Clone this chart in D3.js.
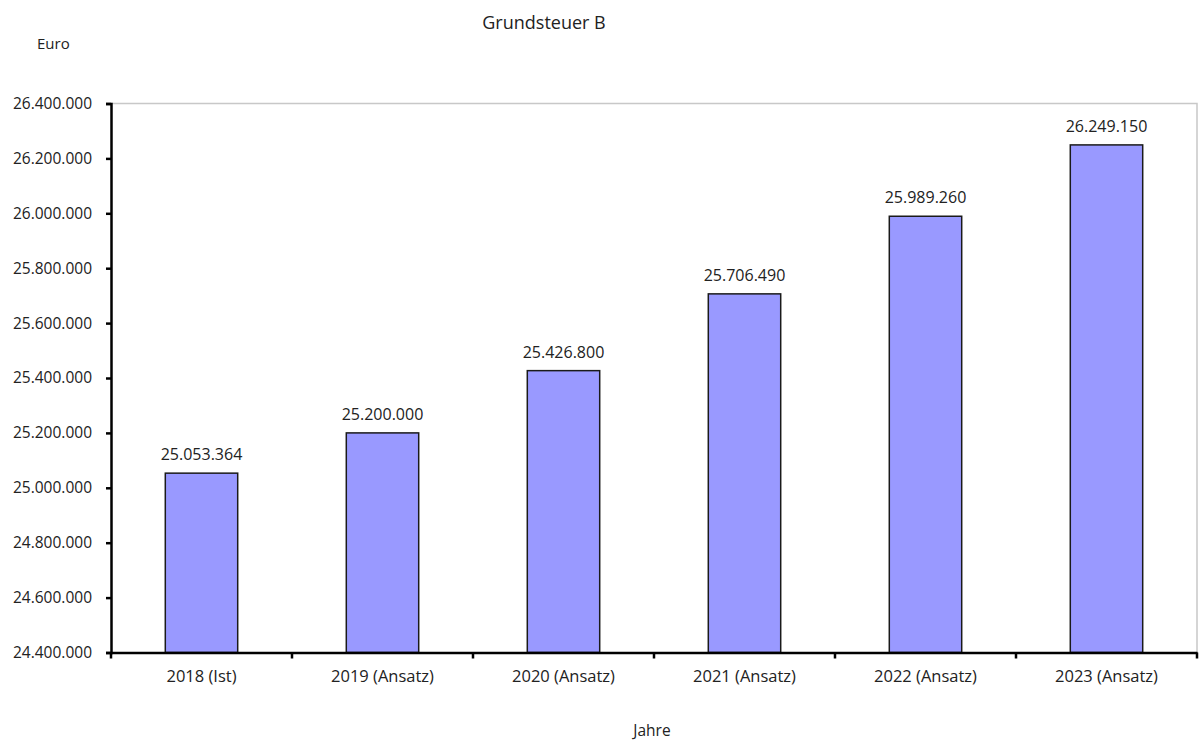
<!DOCTYPE html>
<html><head><meta charset="utf-8">
<script src="https://cdn.jsdelivr.net/npm/d3@7"></script>
<style>body{margin:0;background:#fff}svg{display:block}text{font-family:"Open Sans",sans-serif;fill:#222}</style>
</head><body>
<svg id="c" width="1199" height="740"></svg>
<script>
const categories = ["2018 (Ist)","2019 (Ansatz)","2020 (Ansatz)","2021 (Ansatz)","2022 (Ansatz)","2023 (Ansatz)"];
const values = [25053364, 25200000, 25426800, 25706490, 25989260, 26249150];
const yTicks = [24400000,24600000,24800000,25000000,25200000,25400000,25600000,25800000,26000000,26200000,26400000];
const title = "Grundsteuer B", yTitle = "Euro", xTitle = "Jahre";

const svg = d3.select("#c");
const L = 111, R = 1197, T = 103.5, B = 652.5;
const fmt = v => d3.format(",")(v).replace(/,/g, ".");
const x = d3.scaleBand().domain(categories).range([L, R]).paddingInner(0.6).paddingOuter(0.3);
const y = d3.scaleLinear().domain([24400000, 26400000]).range([B, T]);

svg.append("path").attr("d", `M${L},${T}H${R}V${B}`).attr("fill","none").attr("stroke","#c8c8c8").attr("stroke-width",1.5);

svg.selectAll("rect.bar").data(values).join("rect")
  .attr("x",(d,i)=>x(categories[i])).attr("width",x.bandwidth())
  .attr("y",d=>y(d)).attr("height",d=>B-y(d))
  .attr("fill","#9999ff").attr("stroke","#1a1a1a").attr("stroke-width",1.5);

svg.selectAll("text.val").data(values).join("text")
  .attr("x",(d,i)=>x(categories[i])+x.bandwidth()/2).attr("y",d=>y(d)-13)
  .attr("text-anchor","middle").attr("font-size",16).text(fmt);

const ya = svg.append("g").attr("transform",`translate(${L},0)`)
  .call(d3.axisLeft(y).tickValues(yTicks).tickFormat(fmt).tickSize(5).tickPadding(14));
ya.select(".domain").attr("stroke","#000").attr("stroke-width",2.5);
ya.selectAll(".tick line").attr("stroke","#000").attr("stroke-width",2.5);
ya.selectAll("text").attr("font-size",15.5).attr("fill","#222").attr("font-family","Open Sans");

const xa = svg.append("g").attr("transform",`translate(0,${B})`)
  .call(d3.axisBottom(x).tickSize(0).tickPadding(18));
xa.select(".domain").attr("stroke","#000").attr("stroke-width",2.5);
xa.selectAll("text").attr("font-size",16.5).attr("fill","#222").attr("font-family","Open Sans");
const bounds = d3.range(categories.length + 1).map(i => L + i*(R-L)/categories.length);
xa.selectAll("line.bt").data(bounds).join("line")
  .attr("x1",d=>d).attr("x2",d=>d).attr("y1",0).attr("y2",6).attr("stroke","#000").attr("stroke-width",2.5);

svg.append("text").attr("x",544).attr("y",29).attr("text-anchor","middle").attr("font-size",18).text(title);
svg.append("text").attr("x",37).attr("y",49).attr("font-size",15).text(yTitle);
svg.append("text").attr("x",652).attr("y",736).attr("text-anchor","middle").attr("font-size",15.5).text(xTitle);
</script></body></html>
